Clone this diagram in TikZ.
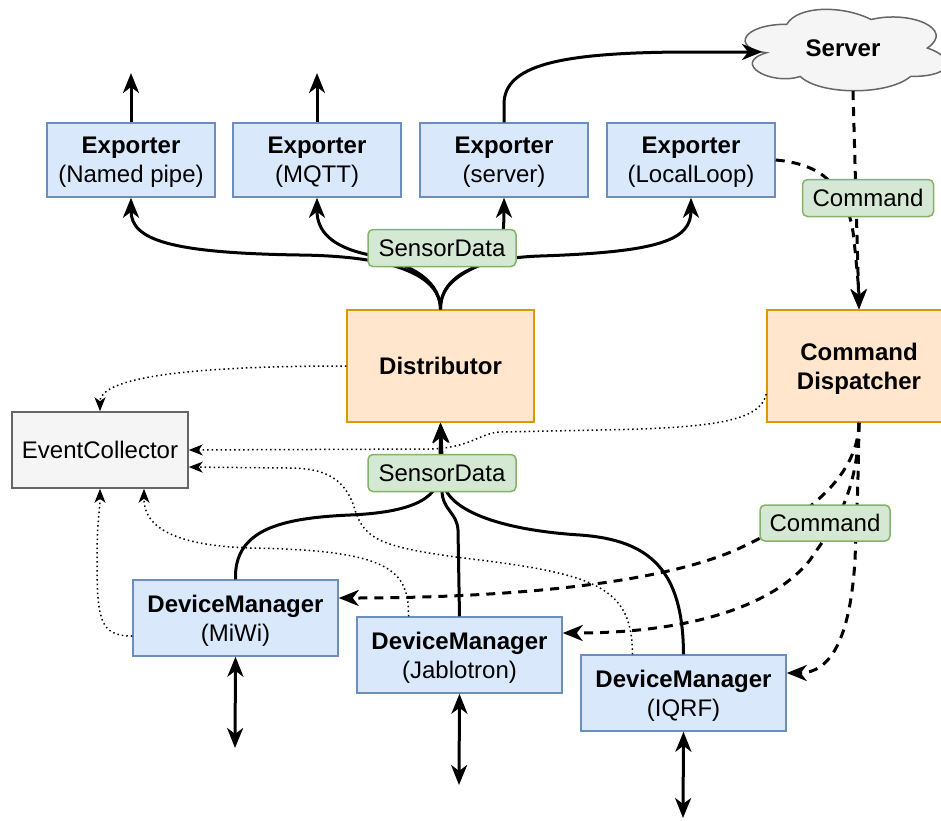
\documentclass[tikz,border=0pt]{standalone}
\usepackage{fontspec}
\setmainfont{Liberation Sans}
\usetikzlibrary{arrows.meta}

\definecolor{blueFill}{HTML}{DAE8FC}
\definecolor{blueLine}{HTML}{6C8EBF}
\definecolor{greenFill}{HTML}{D5E8D4}
\definecolor{greenLine}{HTML}{82B366}
\definecolor{orangeFill}{HTML}{FFE6CC}
\definecolor{orangeLine}{HTML}{D79B00}
\definecolor{grayFill}{HTML}{F5F5F5}
\definecolor{grayLine}{HTML}{666666}

\tikzset{
  txt/.style={font=\fontsize{24}{29}\selectfont, align=center, inner sep=0pt, text depth=0pt},
  bluebox/.style={txt, draw=blueLine, fill=blueFill, line width=1.5pt},
  orangebox/.style={txt, draw=orangeLine, fill=orangeFill, line width=1.5pt},
  graybox/.style={txt, draw=grayLine, fill=grayFill, line width=1.5pt},
  tag/.style={txt, draw=greenLine, fill=greenFill, line width=1.5pt, rounded corners=5pt},
  exporter/.style={bluebox, minimum width=168pt, minimum height=74pt},
  devmgr/.style={bluebox, minimum width=205pt, minimum height=76pt},
  bigtip/.tip={Stealth[length=20pt,width=16pt,inset=6pt]},
  smalltip/.tip={Stealth[length=14pt,width=11pt,inset=4pt]},
  flow/.style={line width=3pt, -bigtip},
  cmd/.style={line width=3pt, dash pattern=on 9pt off 7pt, -bigtip},
  evt/.style={line width=1.5pt, dash pattern=on 1.5pt off 3pt, -smalltip},
  io/.style={line width=3pt, bigtip-bigtip},
}

\begin{document}
\begin{tikzpicture}[x=1pt,y=-1pt]
\useasboundingbox (0,0) rectangle (941,820);

% exporters
\node[exporter] (e1) at (131,160) {\textbf{Exporter}\\(Named pipe)};
\node[exporter] (e2) at (317,160) {\textbf{Exporter}\\(MQTT)};
\node[exporter] (e3) at (504,160) {\textbf{Exporter}\\(server)};
\node[exporter] (e4) at (691,160) {\textbf{Exporter}\\(LocalLoop)};

% server cloud (unit cloud outline, scaled into place)
\begin{scope}[shift={(730.5,0.5)}, x=225pt, y=-95pt]
  \draw[draw=grayLine, fill=grayFill, line width=1.5pt]
    (0.25,0.25) .. controls (0.05,0.25) and (0,0.5) .. (0.16,0.55)
    .. controls (0,0.66) and (0.18,0.9) .. (0.31,0.8)
    .. controls (0.4,1) and (0.7,1) .. (0.8,0.8)
    .. controls (1,0.8) and (1,0.6) .. (0.875,0.5)
    .. controls (1,0.3) and (0.8,0.1) .. (0.625,0.2)
    .. controls (0.5,0.05) and (0.3,0.05) .. (0.25,0.25) -- cycle;
\end{scope}
\node[txt] (srv) at (843,48) {\textbf{Server}};
\coordinate (srvin) at (762,52);
\coordinate (srvout) at (853,91);

% core components
\node[orangebox, minimum width=187pt, minimum height=112pt] (dist) at (440.5,366) {\textbf{Distributor}};
\node[orangebox, minimum width=184pt, minimum height=112pt] (disp) at (859,366) {\textbf{Command}\\\textbf{Dispatcher}};
\node[graybox, minimum width=176pt, minimum height=76pt] (ec) at (100,450) {EventCollector};

% device managers
\node[devmgr] (miwi) at (235.5,618) {\textbf{DeviceManager}\\(MiWi)};
\node[devmgr] (jab) at (459.5,655) {\textbf{DeviceManager}\\(Jablotron)};
\node[devmgr] (iqrf) at (683.5,693) {\textbf{DeviceManager}\\(IQRF)};

% free ends
\coordinate (e1out) at (131,73);
\coordinate (e2out) at (317,73);
\coordinate (miwiio) at (235,748);
\coordinate (jabio) at (459,785);
\coordinate (iqrfio) at (683,818);

% exporter outputs
\draw[flow] (e1.north) -- (e1out);
\draw[flow] (e2.north) -- (e2out);
\draw[flow] (e3.north) -- ++(0,-18) .. controls (504,65) and (560,53) .. (680,52) -- (srvin);

% distributor fan-out
\draw[flow] (dist.north) .. controls (440,270) and (380,256) .. (300,255)
  .. controls (170,253) and (131,240) .. (e1.south);
\draw[flow] (dist.north) .. controls (440,275) and (400,262) .. (370,255)
  .. controls (330,247) and (317,230) .. (e2.south);
\draw[flow] (dist.north) .. controls (440,280) and (470,270) .. (490,260)
  .. controls (500,255) and (504,240) .. (e3.south);
\draw[flow] (dist.north) .. controls (440,275) and (480,258) .. (540,256)
  .. controls (660,252) and (691,240) .. (e4.south);

% device managers into distributor
\draw[flow] (miwi.north) .. controls (234,530) and (280,518) .. (350,515)
  .. controls (420,512) and (440,495) .. (440,470) -- (dist.south);
\draw[flow] (jab.north) -- (458,530) .. controls (457,512) and (442,510) .. (442,490) -- (dist.south);
\draw[flow] (iqrf.north) .. controls (683,570) and (650,540) .. (580,535)
  .. controls (500,530) and (445,510) .. (443,480) -- (dist.south);

% device I/O
\draw[io] (miwi.south) -- (miwiio);
\draw[io] (jab.south) -- (jabio);
\draw[io] (iqrf.south) -- (iqrfio);

% commands
\draw[cmd] (srvout) -- (disp.north);
\draw[cmd] (e4.east) .. controls (800,162) and (820,170) .. (830,182)
  .. controls (848,205) and (852,220) .. (854,240) .. controls (857,270) and (859,290) .. (disp.north);
\draw[cmd] (disp.south) .. controls (858,480) and (800,520) .. (740,548)
  .. controls (660,585) and (500,598) .. ([yshift=20pt]miwi.east);
\draw[cmd] (disp.south) .. controls (858,500) and (830,530) .. (810,560)
  .. controls (770,610) and (680,633) .. ([yshift=22pt]jab.east);
\draw[cmd] (disp.south) .. controls (858,500) and (856,530) .. (855,560)
  .. controls (850,640) and (830,673) .. ([yshift=20pt]iqrf.east);

% events
\draw[evt] (dist.west) .. controls (250,366) and (100,370) .. (ec.north);
\draw[evt] ([yshift=-28pt]disp.west) .. controls (760,420) and (720,428) .. (600,430)
  -- (500,432) .. controls (480,433) and (470,448) .. (430,449) -- (ec.east);
\draw[evt] ([xshift=-51pt]jab.north) .. controls (409,570) and (390,550) .. (250,548)
  .. controls (160,545) and (144,520) .. ([xshift=44pt]ec.south);
\draw[evt] ([xshift=-51pt]iqrf.north) .. controls (632,590) and (600,575) .. (480,560)
  .. controls (380,548) and (365,540) .. (355,510) .. controls (345,475) and (320,468) .. (288,468)
  -- ([yshift=-17pt]ec.east);
\draw[evt] ([yshift=-18pt]miwi.west) .. controls (100,636) and (97,620) .. (97,560)
  .. controls (97,520) and (100,510) .. (ec.south);

% data-type tags
\node[tag, minimum width=148pt, minimum height=37pt] (sd1) at (442,248) {SensorData};
\node[tag, minimum width=148pt, minimum height=37pt] (sd2) at (442,473) {SensorData};
\node[tag, minimum width=131pt, minimum height=37pt] (cm1) at (868,198) {Command};
\node[tag, minimum width=130pt, minimum height=36pt] (cm2) at (825,523) {Command};
\end{tikzpicture}
\end{document}
